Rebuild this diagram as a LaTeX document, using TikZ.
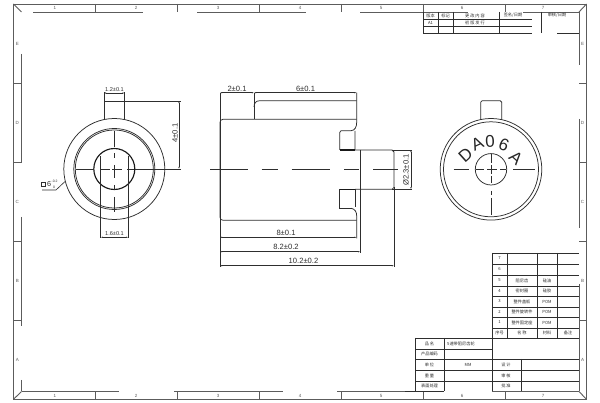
\documentclass[tikz,border=0pt]{standalone}
\usepackage{fontspec}
\setmainfont{Liberation Sans}
\newfontfamily\cjk{Noto Sans CJK SC}
\usetikzlibrary{arrows.meta}
\definecolor{ink}{gray}{0.18}
\definecolor{frameink}{gray}{0.36}
\tikzset{
  x=1pt,y=-1pt,
  part/.style={draw=ink,line width=0.75pt},
  thickpart/.style={draw=black!90,line width=1.15pt},
  frameline/.style={draw=frameink,line width=0.9pt},
  gridline/.style={draw=ink,line width=0.75pt},
  centre/.style={draw=ink,line width=0.6pt},
  dimline/.style={draw=ink,line width=0.55pt,{Latex[length=2.2pt,width=1.4pt]}-{Latex[length=2.2pt,width=1.4pt]}},
  extline/.style={draw=ink,line width=0.6pt},
  dimtext/.style={inner sep=0pt,text=ink,font=\fontsize{7.6}{8}\selectfont},
  smalldim/.style={inner sep=0pt,text=ink,font=\fontsize{5.6}{6}\selectfont},
  ref/.style={inner sep=0pt,text=frameink,font=\fontsize{4.5}{5}\selectfont},
  cell/.style={inner sep=0pt,text=ink,font=\cjk\fontsize{4.2}{5}\selectfont},
  mark text/.style={inner sep=0pt,text=black!85,font=\fontsize{17}{17}\selectfont},
}
\begin{document}
\begin{tikzpicture}
\useasboundingbox (0,0) rectangle (600,403);
\fill[white] (0,0) rectangle (600,403);
% ---- frame
\draw[frameline] (13.5,4) rectangle (586.5,399.3);
\draw[frameline] (13.5,4) -- (21.5,12) (13.5,399.3) -- (21.5,391.5) (586.5,4) -- (579,12) (586.5,399.3) -- (579,391.5);
\draw[frameline] (33,12) -- (143,12) (197,12) -- (306,12) (360,12) -- (468,12) (523,12) -- (579,12);
\draw[frameline] (21.5,391.5) -- (119,391.5) (174,391.5) -- (283,391.5) (337,391.5) -- (444,391.5) (492,391.5) -- (579,391.5);
\draw[frameline] (21.5,54) -- (21.5,162) (21.5,217) -- (21.5,326) (21.5,380) -- (21.5,391.5);
\draw[frameline] (579,12) -- (579,65) (579,119) -- (579,228) (579,284) -- (579,391.5);
\foreach \x in {95,177,259,341,423,505} {
  \draw[frameline] (\x,4) -- (\x,12) (\x,391.5) -- (\x,399.3);
}
\foreach \y in {83,162,241,320} {
  \draw[frameline] (13.5,\y) -- (21.5,\y) (579,\y) -- (586.5,\y);
}
\foreach \n/\x in {1/55,2/136,3/218,4/300,5/381,6/462,7/543} {
  \node[ref] (top\n) at (\x,8) {\n};
  \node[ref] (bot\n) at (\x,395.5) {\n};
}
\foreach \n/\y in {E/44,D/123,C/202,B/281,A/360} {
  \node[ref] (lft\n) at (17.3,\y) {\n};
  \node[ref] (rgt\n) at (582.5,\y) {\n};
}
% ---- left view
\draw[part] (114.3,169) circle (50.5);
\draw[part] (114.3,169) circle (40.5);
\draw[part] (114.3,169) circle (39);
\draw[thickpart] (114.3,169) circle (20.5);
\draw[part] (104,119.8) -- (104,101) -- (124.7,101) -- (124.7,119.8);
\draw[extline] (104,101) -- (104,92) (124.7,101) -- (124.7,92);
\draw[dimline] (104,93) -- (124.7,93);
\node[smalldim] (d12) at (114.5,89.3) {1.2±0.1};
\draw[extline] (124.7,101) -- (181,101);
\draw[extline] (76,169) -- (93.5,169) (135,169) -- (181,169);
\draw[dimline] (179,101) -- (179,169);
\node[dimtext,rotate=90] (d4) at (175,133) {4±0.1};
\draw[centre] (100,169) -- (110,169) (112,169) -- (122,169) (127,169) -- (134,169);
\draw[centre] (114.3,131) -- (114.3,147) (114.3,153.5) -- (114.3,158.5) (114.3,165) -- (114.3,178.5) (114.3,185) -- (114.3,190) (114.3,197) -- (114.3,212);
\draw[extline] (100.7,156) -- (100.7,238.5) (128.3,156) -- (128.3,238.5);
\draw[dimline] (100.7,237.3) -- (128.3,237.3);
\node[smalldim] (d16) at (114.5,233.3) {1.6±0.1};
\draw[extline] (42,190) -- (56,190) -- (65,181.5);
\draw[extline] (41.5,182) rectangle (45,186.5);
\node[inner sep=0pt,text=ink,anchor=west,font=\fontsize{7.2}{8}\selectfont] (sq) at (47,184.3) {6};
\node[inner sep=0pt,text=ink,anchor=west,font=\fontsize{3.4}{4}\selectfont] (sqa) at (51.5,181.2) {-0.2};
\node[inner sep=0pt,text=ink,anchor=west,font=\fontsize{3.4}{4}\selectfont] (sqb) at (53,187) {0};
% ---- middle view
\draw[part,rounded corners=3pt] (356.7,119.3) -- (220,119.3) -- (220,220.3) -- (356.7,220.3);
\draw[part] (254,92.7) -- (254,119.3);
\draw[part] (254,107) .. controls (254,103) and (256,100.7) .. (260,100.7) -- (356.7,100.7);
\draw[part] (356.7,92.7) -- (356.7,122) .. controls (356.7,127) and (355,130.5) .. (351,130.7);
\draw[part] (356.7,238.5) -- (356.7,216) .. controls (356.7,212) and (355,208.8) .. (351,208.3);
\draw[part] (339.7,150) -- (339.7,132.5) -- (341,130.7) -- (351,130.7) (355,131) -- (355,150);
\draw[part] (339.7,189.3) -- (339.7,208.3) -- (351,208.3) (355,189.3) -- (355,207);
\draw[thickpart] (339.7,150) -- (355,150) (339.7,189.3) -- (355,189.3);
\draw[part] (355,150) -- (392,150) -- (394,152) -- (394,187.5) -- (392,189.3) -- (355,189.3);
\draw[part] (360.3,150) -- (360.3,252.7);
\draw[extline] (394,187) -- (394,266.7);
\draw[extline] (392,150) -- (412.3,150) (392,189.3) -- (412.3,189.3);
\draw[extline] (220,92.7) -- (220,267);
\draw[centre] (210,169.3) -- (248.3,169.3) (261.7,169.3) -- (278.3,169.3) (291.7,169.3) -- (330,169.3) (344,169.3) -- (359.3,169.3) (373.3,169.3) -- (398.3,169.3);
\draw[dimline] (220,92.7) -- (254,92.7);
\draw[dimline] (254,92.7) -- (356.7,92.7);
\node[dimtext] (d2) at (237,89) {2±0.1};
\node[dimtext] (d6) at (305.5,89) {6±0.1};
\draw[dimline] (220,237.3) -- (356.7,237.3);
\node[dimtext] (d8) at (286,232.8) {8±0.1};
\draw[dimline] (220,251.7) -- (360.3,251.7);
\node[dimtext] (d82) at (286,247) {8.2±0.2};
\draw[dimline] (220,265.7) -- (394,265.7);
\node[dimtext] (d102) at (303.5,261) {10.2±0.2};
\draw[dimline] (411,150) -- (411,189.3);
\node[dimtext,rotate=90] (d23) at (406,170) {Ø2.3±0.1};
% ---- right view
\draw[part] (491,169.3) circle (50.8);
\draw[part] (491,169.3) circle (47.5);
\draw[part] (491,169.3) circle (15.7);
\draw[part,rounded corners=1.5pt] (480.7,120) -- (480.7,100.7) -- (501.7,100.7) -- (501.7,120);
\draw[centre] (453.5,169.3) -- (468.5,169.3) (476,169.3) -- (484,169.3) (487,169.3) -- (497,169.3) (500,169.3) -- (506,169.3) (513,169.3) -- (535,169.3);
\draw[centre] (491,154) -- (491,163) (491,165) -- (491,174) (491,176) -- (491,183.5) (491,191) -- (491,195) (491,198) -- (491,215);
\node[mark text,rotate=42] (mD) at (465.5,155.5) {D};
\node[mark text,rotate=25] (mA) at (477.3,144) {A};
\node[mark text,rotate=3] (m0) at (490,141.3) {0};
\node[mark text,rotate=-22] (m6) at (504,145) {6};
\node[mark text,rotate=-42] (mA2) at (516,157.6) {A};
% ---- revision block
\draw[gridline] (423,12) -- (423,33) (438,12) -- (438,33) (453,12) -- (453,33) (499,12) -- (499,33) (541,12) -- (541,33);
\draw[gridline] (423,19) -- (532,19) (423,26) -- (532,26) (423,33) -- (532,33) (557,33) -- (579,33);
\node[cell] (rv1) at (430.5,15.5) {版本};
\node[cell] (rv2) at (445.5,15.5) {标记};
\node[cell] (rv3) at (475,15.5) {更 改 内 容};
\node[cell] (rv4) at (513,15.5) {签名/日期};
\node[cell] (rv5) at (557,15.5) {审核/日期};
\node[cell] (rv6) at (430.5,22.5) {A1};
\node[cell] (rv7) at (475,22.5) {初 版 发 行};
% ---- parts list
\foreach \y in {253,264,275,286,296,307,317,328} {
  \draw[gridline] (492,\y) -- (579,\y);
}
\draw[gridline] (492,253) -- (492,338) (507,253) -- (507,338) (537,253) -- (537,338) (557,253) -- (557,338);
\foreach \n/\a/\b/\c/\y in {7///7/258.5,6///6/269.5,5/阻尼齿/硅油/5/280.5,4/密封圈/硅胶/4/291,3/整件盖板/POM/3/301.5,2/整件旋转件/POM/2/312,1/整件固定座/POM/1/322.5} {
  \node[cell] (no\n) at (499.5,\y) {\c};
  \node[cell] (nm\n) at (522,\y) {\a};
  \node[cell] (mt\n) at (547,\y) {\b};
}
\node[cell] (hd1) at (499.5,333) {序号};
\node[cell] (hd2) at (522,333) {名 称};
\node[cell] (hd3) at (547,333) {材料};
\node[cell] (hd4) at (568,333) {备注};
% ---- title block
\draw[gridline] (415,338) -- (579,338) (415,349) -- (492,349) (415,359) -- (579,359) (415,370) -- (579,370) (415,381) -- (579,381);
\draw[gridline] (415,338) -- (415,391.5) (444,338) -- (444,391.5) (492,338) -- (492,391.5) (521,359) -- (521,391.5);
\draw[gridline] (405,391.5) -- (444,391.5);
\node[cell] (tb1) at (429.5,343.5) {品 名};
\node[cell,anchor=west] (tb2) at (447,343.5) {5速带阻尼齿轮};
\node[cell] (tb3) at (429.5,354) {产品编码};
\node[cell] (tb4) at (429.5,364.5) {单 位};
\node[cell] (tb5) at (468,364.5) {MM};
\node[cell] (tb6) at (429.5,375.5) {重 量};
\node[cell] (tb7) at (429.5,386) {表面处理};
\node[cell] (tb8) at (506,364.5) {设 计};
\node[cell] (tb9) at (506,375.5) {审 核};
\node[cell] (tb10) at (506,386) {批 准};
\end{tikzpicture}
\end{document}
